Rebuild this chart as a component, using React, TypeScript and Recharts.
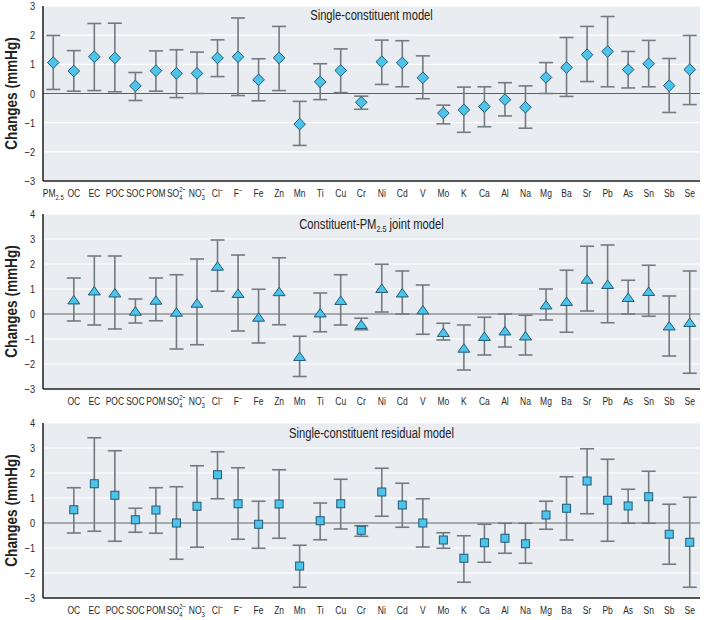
import React from "react";
import {
  ComposedChart,
  Scatter,
  ErrorBar,
  XAxis,
  YAxis,
  CartesianGrid,
  ReferenceLine,
} from "recharts";

const categories = [
  "PM2.5", "OC", "EC", "POC", "SOC", "POM", "SO42−", "NO3−", "Cl−", "F−", "Fe", "Zn", "Mn", "Ti", "Cu", "Cr",
  "Ni", "Cd", "V", "Mo", "K", "Ca", "Al", "Na", "Mg", "Ba", "Sr", "Pb", "As", "Sn", "Sb", "Se",
];

const singleEst = [1.06, 0.77, 1.26, 1.22, 0.26, 0.78, 0.69, 0.69, 1.22, 1.26, 0.47, 1.22, -1.05, 0.4, 0.79, -0.3, 1.09, 1.05, 0.54, -0.67, -0.56, -0.45, -0.21, -0.47, 0.55, 0.89, 1.33, 1.44, 0.82, 1.02, 0.27, 0.82];
const singleLo = [0.14, 0.08, 0.1, 0.06, -0.24, 0.08, -0.14, 0.0, 0.58, -0.07, -0.25, 0.1, -1.78, -0.21, 0.03, -0.54, 0.31, 0.23, -0.18, -1.04, -1.33, -1.14, -0.77, -1.19, 0.0, -0.1, 0.41, 0.23, 0.19, 0.23, -0.65, -0.38];
const singleHi = [1.99, 1.47, 2.4, 2.41, 0.72, 1.46, 1.5, 1.42, 1.84, 2.59, 1.19, 2.3, -0.27, 1.02, 1.53, -0.09, 1.83, 1.81, 1.29, -0.4, 0.22, 0.23, 0.37, 0.26, 1.06, 1.92, 2.3, 2.64, 1.44, 1.82, 1.2, 1.99];

const jointEst = [null, 0.57, 0.93, 0.85, 0.12, 0.56, 0.08, 0.44, 1.92, 0.83, -0.12, 0.9, -1.69, 0.05, 0.55, -0.41, 1.03, 0.85, 0.17, -0.73, -1.36, -0.89, -0.67, -0.87, 0.37, 0.51, 1.4, 1.19, 0.67, 0.91, -0.47, -0.33];
const jointLo = [null, -0.28, -0.44, -0.6, -0.36, -0.27, -1.4, -1.23, 0.91, -0.68, -1.16, -0.43, -2.5, -0.71, -0.44, -0.63, 0.08, 0.0, -0.81, -1.04, -2.24, -1.64, -1.32, -1.64, -0.24, -0.73, 0.12, -0.35, 0.0, -0.09, -1.68, -2.37];
const jointHi = [null, 1.44, 2.32, 2.32, 0.6, 1.44, 1.57, 2.2, 2.96, 2.36, 0.99, 2.25, -0.89, 0.84, 1.57, -0.17, 1.99, 1.72, 1.16, -0.37, -0.44, -0.13, 0.0, -0.05, 1.0, 1.75, 2.71, 2.76, 1.35, 1.95, 0.72, 1.72];

const residEst = [null, 0.53, 1.57, 1.11, 0.13, 0.52, 0.0, 0.67, 1.93, 0.77, -0.05, 0.76, -1.72, 0.09, 0.77, -0.29, 1.24, 0.72, 0.0, -0.68, -1.41, -0.79, -0.61, -0.83, 0.32, 0.59, 1.68, 0.91, 0.68, 1.05, -0.45, -0.77];
const residLo = [null, -0.4, -0.33, -0.73, -0.37, -0.41, -1.45, -0.97, 0.97, -0.65, -1.01, -0.61, -2.57, -0.67, -0.24, -0.53, 0.27, -0.17, -0.96, -1.01, -2.37, -1.57, -1.21, -1.61, -0.25, -0.68, 0.37, -0.73, -0.01, -0.01, -1.65, -2.57];
const residHi = [null, 1.41, 3.41, 2.89, 0.59, 1.41, 1.45, 2.29, 2.85, 2.21, 0.87, 2.13, -0.89, 0.8, 1.75, -0.11, 2.19, 1.59, 0.97, -0.39, -0.51, -0.05, -0.01, -0.01, 0.87, 1.85, 2.97, 2.55, 1.35, 2.07, 0.75, 1.03];

const ticks6 = [-3, -2, -1, 0, 1, 2, 3];
const ticks7 = [-3, -2, -1, 0, 1, 2, 3, 4];

const FONT = "'Liberation Sans', Arial, sans-serif";
const FILL = "#4ec4ea";
const EDGE = "#1f5a78";
const BAR = "#737a80";
const TXT = "#2a2a2a";
const SX = 0.74;

function build(est: (number | null)[], lo: (number | null)[], hi: (number | null)[]) {
  const out: { x: number; v: number; err: [number, number] }[] = [];
  est.forEach((v, i) => {
    if (v === null || lo[i] === null || hi[i] === null) return;
    out.push({ x: i, v, err: [v - (lo[i] as number), (hi[i] as number) - v] });
  });
  return out;
}

const Diamond = (p: any) => {
  const { cx, cy } = p;
  if (cx == null || cy == null) return null;
  const r = 5.8;
  return (
    <path
      d={`M${cx},${cy - r}L${cx + r},${cy}L${cx},${cy + r}L${cx - r},${cy}Z`}
      fill={FILL}
      stroke={EDGE}
      strokeWidth={1}
    />
  );
};

const Triangle = (p: any) => {
  const { cx, cy } = p;
  if (cx == null || cy == null) return null;
  const w = 6;
  const h = 4.2;
  return (
    <path
      d={`M${cx},${cy - h}L${cx + w},${cy + h}L${cx - w},${cy + h}Z`}
      fill={FILL}
      stroke={EDGE}
      strokeWidth={1}
    />
  );
};

const Square = (p: any) => {
  const { cx, cy } = p;
  if (cx == null || cy == null) return null;
  const s = 4;
  return <rect x={cx - s} y={cy - s} width={2 * s} height={2 * s} fill={FILL} stroke={EDGE} strokeWidth={1} />;
};

const XTick = (props: any) => {
  const { x, y, payload } = props;
  const name = categories[payload.value];
  let content: React.ReactNode = name;
  if (name === "PM2.5") {
    content = (
      <>
        <tspan>PM</tspan>
        <tspan fontSize={8} dy={3}>2.5</tspan>
      </>
    );
  } else if (name === "SO42−") {
    content = (
      <>
        <tspan>SO</tspan>
        <tspan fontSize={8} dy={3}>4</tspan>
        <tspan fontSize={8} dx={-4.4} dy={-8.5}>2−</tspan>
      </>
    );
  } else if (name === "NO3−") {
    content = (
      <>
        <tspan>NO</tspan>
        <tspan fontSize={8} dy={3}>3</tspan>
        <tspan fontSize={8} dx={-4.4} dy={-8.5}>−</tspan>
      </>
    );
  } else if (name === "Cl−" || name === "F−") {
    content = (
      <>
        <tspan>{name.slice(0, -1)}</tspan>
        <tspan fontSize={8} dy={-4}>−</tspan>
      </>
    );
  }
  return (
    <g transform={`translate(${x},${y + 8}) scale(${SX},1)`}>
      <text x={0} y={0} textAnchor="middle" fontFamily={FONT} fontSize={11.5} fill={TXT}>
        {content}
      </text>
    </g>
  );
};

const YTick = (props: any) => {
  const { x, y, payload } = props;
  const v = payload.value as number;
  const s = v < 0 ? `\u2212${Math.abs(v)}` : `${v}`;
  return (
    <g transform={`translate(${x},${y}) scale(0.8,1)`}>
      <text x={0} y={0} dy="0.36em" textAnchor="end" fontFamily={FONT} fontSize={11.5} fill={TXT}>
        {s}
      </text>
    </g>
  );
};

const YLabel = (props: any) => {
  const vb = props.viewBox || {};
  const cy = (vb.y ?? 0) + (vb.height ?? 0) / 2;
  return (
    <g transform={`translate(17, ${cy}) rotate(-90) scale(0.85,1)`}>
      <text x={0} y={0} textAnchor="middle" fontFamily={FONT} fontSize={16} fontWeight="bold" fill="#222">
        Changes (mmHg)
      </text>
    </g>
  );
};

type PanelProps = {
  data: { x: number; v: number; err: [number, number] }[];
  height: number;
  top: number;
  xAxisHeight: number;
  yDomain: [number, number];
  yTicks: number[];
  xTicks: number[];
  shape: any;
};

const Panel = ({ data, height, top, xAxisHeight, yDomain, yTicks, xTicks, shape }: PanelProps) => (
  <ComposedChart width={704} height={height} margin={{ top, right: 4, left: 0, bottom: 0 }}>
    <CartesianGrid vertical={false} stroke="#ffffff" strokeWidth={1.2} fill="#e9edf1" />
    <XAxis
      dataKey="x"
      type="number"
      domain={[-0.5, 31.5]}
      ticks={xTicks}
      interval={0}
      tick={<XTick />}
      tickLine={false}
      axisLine={{ stroke: "#1e1e1e", strokeWidth: 1.5 }}
      height={xAxisHeight}
      allowDataOverflow
    />
    <YAxis
      type="number"
      domain={yDomain}
      ticks={yTicks}
      interval={0}
      width={43}
      tickLine={false}
      tick={<YTick />}
      tickMargin={2}
      axisLine={{ stroke: "#1e1e1e", strokeWidth: 1.5 }}
      label={<YLabel />}
    />
    <ReferenceLine y={0} stroke="#5a5f63" strokeWidth={1.2} />
    <Scatter data={data} dataKey="v" shape={shape} isAnimationActive={false}>
      <ErrorBar dataKey="err" direction="y" width={7} stroke={BAR} strokeWidth={1.6} isAnimationActive={false} />
    </Scatter>
  </ComposedChart>
);

const titleStyle: React.CSSProperties = {
  position: "absolute",
  left: 43,
  width: 657,
  textAlign: "center",
  fontFamily: FONT,
  fontSize: 14,
  color: "#222",
  lineHeight: "16px",
  whiteSpace: "nowrap",
  transform: "scaleX(0.8)",
  transformOrigin: "328.5px 0",
};

export default function App() {
  const p1 = build(singleEst, singleLo, singleHi);
  const p2 = build(jointEst, jointLo, jointHi);
  const p3 = build(residEst, residLo, residHi);
  const allTicks = categories.map((_, i) => i);
  const noPmTicks = allTicks.slice(1);
  return (
    <div style={{ position: "relative", width: 704, height: 620, background: "#fff" }}>
      <style>{`body{margin:0;}`}</style>
      <div style={{ position: "absolute", left: 0, top: 0 }}>
        <Panel data={p1} height={205} top={6} xAxisHeight={24} yDomain={[-3, 3]} yTicks={ticks6} xTicks={allTicks} shape={Diamond} />
      </div>
      <div style={{ position: "absolute", left: 0, top: 205 }}>
        <Panel data={p2} height={205} top={9} xAxisHeight={21} yDomain={[-3, 4]} yTicks={ticks7} xTicks={noPmTicks} shape={Triangle} />
      </div>
      <div style={{ position: "absolute", left: 0, top: 410 }}>
        <Panel data={p3} height={210} top={13} xAxisHeight={22} yDomain={[-3, 4]} yTicks={ticks7} xTicks={noPmTicks} shape={Square} />
      </div>
      <div style={{ ...titleStyle, top: 7 }}>Single-constituent model</div>
      <div style={{ ...titleStyle, top: 216 }}>
        Constituent-PM<sub style={{ fontSize: 9, verticalAlign: "-3px", lineHeight: 0 }}>2.5</sub> joint model
      </div>
      <div style={{ ...titleStyle, top: 425 }}>Single-constituent residual model</div>
    </div>
  );
}
